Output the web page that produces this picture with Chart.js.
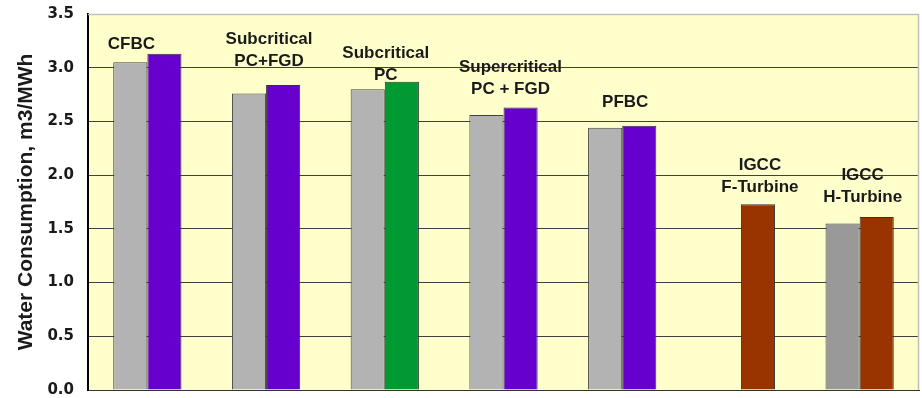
<!DOCTYPE html>
<html>
<head>
<meta charset="utf-8">
<script src="https://cdn.jsdelivr.net/npm/chart.js@4/dist/chart.umd.min.js"></script>
<style>
  html, body { margin: 0; padding: 0; background: #ffffff; }
  #wrap { width: 922px; height: 398px; }
</style>
</head>
<body>
<div id="wrap"><canvas id="c" width="922" height="398"></canvas></div>
<script>
// ---- data ----
const categories = ['CFBC', 'Subcritical PC+FGD', 'Subcritical PC', 'Supercritical PC + FGD', 'PFBC', 'IGCC F-Turbine', 'IGCC H-Turbine'];
const categoryLabelLines = [['CFBC'], ['Subcritical', 'PC+FGD'], ['Subcritical', 'PC'], ['Supercritical', 'PC + FGD'], ['PFBC'], ['IGCC', 'F-Turbine'], ['IGCC', 'H-Turbine']];
const seriesA = [3.05, 2.76, 2.80, 2.56, 2.44, null, 1.55];
const seriesB = [3.13, 2.84, 2.87, 2.63, 2.46, 1.73, 1.61];
const yTicks = [0, 0.5, 1.0, 1.5, 2.0, 2.5, 3.0, 3.5];
const yTitle = 'Water Consumption, m3/MWh';

// ---- styles ----
const colorsA = ['#b3b3b3', '#b3b3b3', '#b3b3b3', '#b3b3b3', '#b3b3b3', '#b3b3b3', '#999999'];
const colorsB = ['#6600cc', '#6600cc', '#009933', '#6600cc', '#6600cc', '#993300', '#993300'];
const labelDx = [-16, 3, 1, 7, 3, 19, 3];
const labelDy = [10.5, 24.5, 7, 19.5, 24, 17.5, 20.7];

const bgPlugin = {
  id: 'bg',
  beforeDraw(chart) {
    const a = chart.chartArea, ctx = chart.ctx;
    ctx.save();
    ctx.fillStyle = '#ffffcc';
    ctx.fillRect(a.left, a.top, a.right - a.left, a.bottom - a.top);
    ctx.restore();
  },
  afterDraw(chart) {
    const a = chart.chartArea, ctx = chart.ctx;
    ctx.save();
    ctx.strokeStyle = '#c0c0c0';
    ctx.lineWidth = 1.5;
    ctx.beginPath();
    ctx.moveTo(a.left, a.top + 0.5);
    ctx.lineTo(a.right - 0.5, a.top + 0.5);
    ctx.lineTo(a.right - 0.5, a.bottom);
    ctx.stroke();
    ctx.restore();
  }
};

const labelPlugin = {
  id: 'groupLabels',
  afterDatasetsDraw(chart) {
    const ctx = chart.ctx;
    const xs = chart.scales.x, ys = chart.scales.y;
    ctx.save();
    ctx.font = 'bold 17px "Liberation Sans", Arial, sans-serif';
    ctx.fillStyle = '#1a1a1a';
    ctx.textAlign = 'center';
    ctx.textBaseline = 'middle';
    categories.forEach((c, i) => {
      const top = Math.max(seriesA[i] ?? 0, seriesB[i] ?? 0);
      const x = xs.getPixelForValue(i) + labelDx[i];
      const yLast = ys.getPixelForValue(top) - labelDy[i];
      const lines = categoryLabelLines[i];
      lines.forEach((ln, k) => {
        const y = yLast - (lines.length - 1 - k) * 22;
        ctx.fillText(ln, x, y + 1);
      });
    });
    ctx.restore();
  }
};

new Chart(document.getElementById('c'), {
  type: 'bar',
  data: {
    labels: categories,
    datasets: [
      { label: 'A', data: seriesA, backgroundColor: colorsA, borderColor: '#404040', borderWidth: 1, borderSkipped: 'bottom' },
      { label: 'B', data: seriesB, backgroundColor: colorsB, borderColor: '#333333', borderWidth: 1, borderSkipped: 'bottom' }
    ]
  },
  options: {
    responsive: false,
    animation: false,
    events: [],
    layout: { autoPadding: false, padding: { left: 0, right: 3, top: 14, bottom: 8 } },
    categoryPercentage: 0.575,
    barPercentage: 1.0,
    plugins: { legend: { display: false }, tooltip: { enabled: false } },
    scales: {
      x: {
        type: 'category',
        offset: true,
        grid: { display: false, drawTicks: false },
        ticks: { display: false },
        border: { display: true, color: '#333333', width: 1 },
        afterFit(scale) { scale.height = 0; }
      },
      y: {
        min: 0, max: 3.5,
        afterBuildTicks(scale) { scale.ticks = yTicks.map(v => ({ value: v })); },
        ticks: {
          padding: 14,
          color: '#1a1a1a',
          font: { family: '"DejaVu Sans", sans-serif', weight: 'bold', size: 15 },
          callback: v => Number(v).toFixed(1)
        },
        grid: {
          drawTicks: false,
          color: ctx => (ctx.tick && ctx.tick.value === 3.5) ? 'rgba(0,0,0,0)' : '#404040',
          lineWidth: 1
        },
        border: { display: true, color: '#000000', width: 2 },
        title: {
          display: true,
          text: yTitle,
          color: '#1a1a1a',
          font: { family: '"Liberation Sans", Arial, sans-serif', weight: 'bold', size: 21 },
          padding: { top: 14, bottom: 0 }
        },
        afterFit(scale) { scale.width = 88; scale.paddingTop = 0; scale.paddingBottom = 0; }
      }
    }
  },
  plugins: [bgPlugin, labelPlugin]
});
</script>
</body>
</html>
